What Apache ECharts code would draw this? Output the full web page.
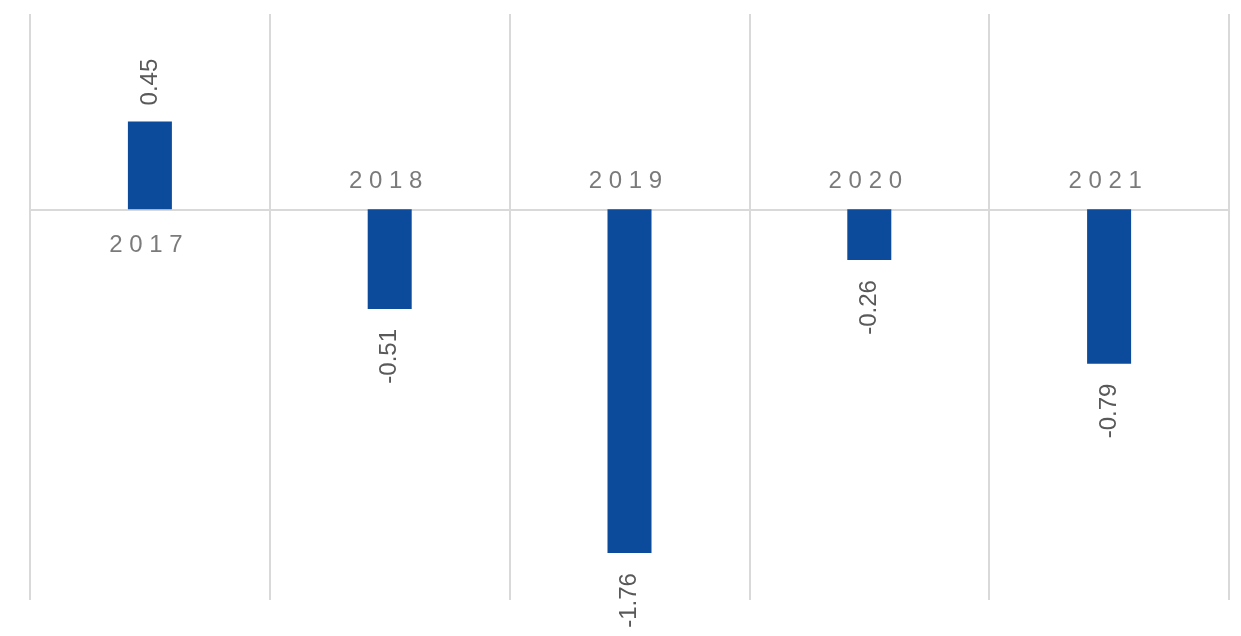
<!DOCTYPE html>
<html>
<head>
<meta charset="utf-8">
<script src="https://cdn.jsdelivr.net/npm/echarts@6/dist/echarts.min.js"></script>
<style>html,body{margin:0;padding:0;background:#fff;}#c{width:1241px;height:636px;}</style>
</head>
<body>
<div id="c"></div>
<script>
const categories = ['2017', '2018', '2019', '2020', '2021'];
const values = [0.45, -0.51, -1.76, -0.26, -0.79];
const yMin = -2, yMax = 1;

const grey = '#595959';
const lineColor = '#d9d9d9';
const font = '"Liberation Sans", Arial, sans-serif';

const chart = echarts.init(document.getElementById('c'));
chart.setOption({
  backgroundColor: '#ffffff',
  animation: false,
  grid: { left: 30, right: 12, top: 14, bottom: 36, containLabel: false },
  xAxis: {
    type: 'category',
    data: categories,
    boundaryGap: true,
    axisLine: { show: true, onZero: true, lineStyle: { color: lineColor, width: 2 } },
    axisTick: { show: false },
    axisLabel: { show: false },
    splitLine: { show: true, lineStyle: { color: lineColor, width: 2 } }
  },
  yAxis: {
    type: 'value',
    min: yMin,
    max: yMax,
    axisLine: { show: false },
    axisTick: { show: false },
    axisLabel: { show: false },
    splitLine: { show: false }
  },
  series: [
    {
      type: 'bar',
      data: values.map(v => ({
        value: v,
        label: v >= 0
          ? { position: 'top', align: 'left', distance: 16 }
          : { position: 'bottom', align: 'right', distance: 20 }
      })),
      barWidth: 44,
      itemStyle: { color: '#0c4a9c' },
      label: {
        show: true,
        rotate: 90,
        verticalAlign: 'middle',
        color: grey,
        fontFamily: font,
        fontSize: 24,
        formatter: p => String(p.value)
      },
      z: 3
    },
    {
      type: 'scatter',
      symbolSize: 0,
      silent: true,
      data: categories.map((c, i) => ({
        value: [c, 0],
        label: values[i] >= 0
          ? { position: 'bottom', distance: 24 }
          : { position: 'top', distance: 16 }
      })),
      label: {
        show: true,
        color: grey,
        fontFamily: font,
        fontSize: 24,
        offset: [-4, 0],
        formatter: p => p.value[0].split('').join(' ')
      },
      z: 4
    }
  ]
});
</script>
</body>
</html>
